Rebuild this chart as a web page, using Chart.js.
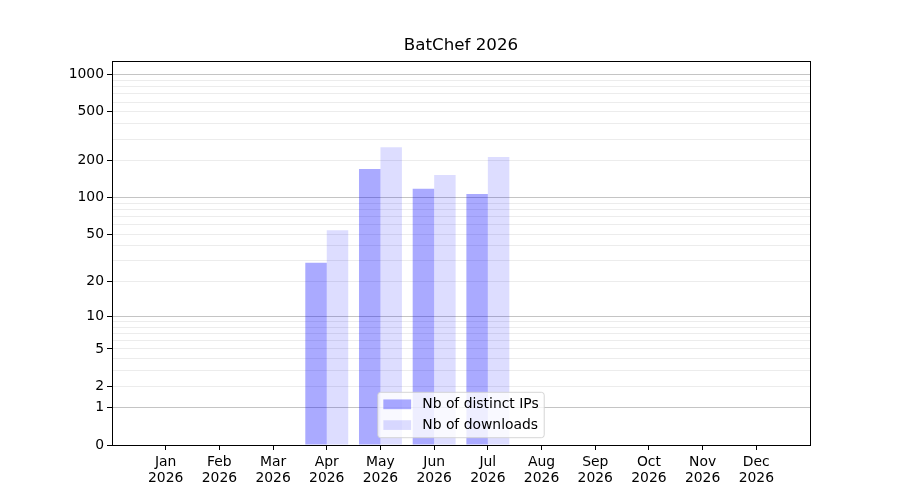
<!DOCTYPE html>
<html>
<head>
<meta charset="utf-8">
<title>BatChef 2026</title>
<script src="https://cdn.jsdelivr.net/npm/chart.js@4.4.1/dist/chart.umd.min.js"></script>
<style>
  html, body { margin: 0; padding: 0; background: #fff; }
  #wrap { width: 900px; height: 500px; }
</style>
</head>
<body>
<div id="wrap"><canvas id="chart" width="900" height="500"></canvas></div>
<script>
const months = ['Jan', 'Feb', 'Mar', 'Apr', 'May', 'Jun', 'Jul', 'Aug', 'Sep', 'Oct', 'Nov', 'Dec'];
const year = '2026';
const distinctIPs = [0, 0, 0, 29, 171, 118, 107, 0, 0, 0, 0, 0];
const downloads = [0, 0, 0, 54, 258, 153, 214, 0, 0, 0, 0, 0];
const yLabelTicks = [0, 1, 2, 5, 10, 20, 50, 100, 200, 500, 1000];
const yMinorTicks = [3, 4, 6, 7, 8, 9, 30, 40, 60, 70, 80, 90, 300, 400, 600, 700, 800, 900];
const yMajorGrid = [1, 10, 100, 1000];

const FONT = '"DejaVu Sans", sans-serif';
const FS = 13.9;

// axe y en log10(1 + v), comme le graphe d'origine
const f = v => Math.log10(1 + v);
const fInv = t => Math.pow(10, t) - 1;

class Log1pScale extends Chart.Scale {
    determineDataLimits() {
        const { min, max } = this.getMinMax(true);
        this.min = Number.isFinite(this.options.min) ? this.options.min : Math.min(0, min);
        this.max = Number.isFinite(this.options.max) ? this.options.max : max;
    }
    buildTicks() {
        return yLabelTicks.concat(yMinorTicks)
            .filter(v => v >= this.min && v <= this.max)
            .sort((a, b) => a - b)
            .map(v => ({ value: v }));
    }
    configure() {
        super.configure();
        this._startValue = f(this.min);
        this._valueRange = f(this.max) - f(this.min);
    }
    getPixelForValue(value) {
        if (value === undefined || value === null) value = this.min;
        return this.getPixelForDecimal((f(value) - this._startValue) / this._valueRange);
    }
    getValueForPixel(pixel) {
        return fInv(this._startValue + this.getDecimalForPixel(pixel) * this._valueRange);
    }
    getLabelForValue(value) {
        return String(value);
    }
}
Log1pScale.id = 'log1p';
Log1pScale.defaults = {};
Chart.register(Log1pScale);

// cadre noir autour de la zone du graphe
const framePlugin = {
    id: 'frame',
    afterDatasetsDraw(chart) {
        const { ctx, chartArea: a } = chart;
        ctx.save();
        ctx.strokeStyle = '#000';
        ctx.lineWidth = 1;
        ctx.strokeRect(Math.round(a.left) + 0.5, Math.round(a.top) + 0.5,
            Math.round(a.right - a.left), Math.round(a.bottom - a.top));
        ctx.restore();
    }
};

// légende dessinée dans la zone, en bas au centre
const insideLegend = {
    id: 'insideLegend',
    afterDraw(chart) {
        const { ctx, chartArea: a } = chart;
        ctx.save();
        ctx.font = FS + 'px ' + FONT;
        const items = chart.data.datasets.map(d => ({ text: d.label, color: d.backgroundColor }));
        const textW = Math.max(...items.map(it => ctx.measureText(it.text).width));
        const pad = 0.4 * FS, handleW = 2 * FS, handleH = 0.7 * FS, gap = 0.8 * FS;
        const rowStep = 20.8;
        const w = pad * 2 + handleW + gap + textW;
        const h = 45.4;
        const x = (a.left + a.right) / 2 - w / 2;
        const y = a.bottom - 7.3 - h;

        ctx.beginPath();
        ctx.roundRect(x, y, w, h, 2.8);
        ctx.fillStyle = 'rgba(255,255,255,0.8)';
        ctx.fill();
        ctx.strokeStyle = 'rgba(204,204,204,0.8)';
        ctx.lineWidth = 1;
        ctx.stroke();

        items.forEach((it, i) => {
            const cy = y + 12 + i * rowStep;
            ctx.fillStyle = it.color;
            ctx.fillRect(x + pad, cy - handleH / 2, handleW, handleH);
            ctx.fillStyle = '#000';
            ctx.textBaseline = 'middle';
            ctx.textAlign = 'left';
            ctx.fillText(it.text, x + pad + handleW + gap, cy + 0.5);
        });
        ctx.restore();
    }
};

const toPoints = arr => arr.map((v, i) => ({ x: i, y: v }));

new Chart(document.getElementById('chart').getContext('2d'), {
    type: 'bar',
    data: {
        datasets: [{
            label: 'Nb of distinct IPs',
            data: toPoints(distinctIPs),
            backgroundColor: 'rgba(0,0,255,0.333)',
            borderWidth: 0,
            categoryPercentage: 0.8,
            barPercentage: 1.0
        }, {
            label: 'Nb of downloads',
            data: toPoints(downloads),
            backgroundColor: 'rgba(0,0,255,0.133)',
            borderWidth: 0,
            categoryPercentage: 0.8,
            barPercentage: 1.0
        }]
    },
    options: {
        responsive: false,
        animation: false,
        layout: { padding: { left: 0, right: 90, top: 0, bottom: 0 } },
        plugins: {
            legend: { display: false },
            tooltip: { enabled: false },
            title: {
                display: true,
                text: 'BatChef 2026',
                fullSize: false,
                color: '#000',
                font: { family: FONT, size: 16.7, weight: 'normal' },
                padding: { top: 36, bottom: 5 }
            }
        },
        scales: {
            x: {
                type: 'linear',
                min: -1,
                max: 12,
                offset: false,
                afterBuildTicks: s => { s.ticks = s.ticks.filter(t => t.value >= 0 && t.value <= 11); },
                afterFit: s => { s.height = 55; },
                border: { display: false },
                grid: { offset: false, drawOnChartArea: false, tickLength: 5, tickColor: '#000', tickWidth: 1 },
                ticks: {
                    stepSize: 1,
                    autoSkip: false,
                    maxRotation: 0,
                    padding: 4,
                    color: '#000',
                    font: { family: FONT, size: FS, lineHeight: 1.15 },
                    callback: v => [months[v], year]
                }
            },
            y: {
                type: 'log1p',
                min: 0,
                max: 1290,
                afterFit: s => { s.width = 112; },
                border: { display: false },
                grid: {
                    lineWidth: 1,
                    color: c => (c.tick && yMajorGrid.includes(c.tick.value)) ? '#c4c4c4' : '#ececec',
                    tickLength: 5,
                    tickWidth: 1,
                    tickColor: c => (c.tick && yLabelTicks.includes(c.tick.value)) ? '#000' : 'rgba(0,0,0,0)'
                },
                ticks: {
                    autoSkip: false,
                    padding: 3,
                    color: '#000',
                    font: { family: FONT, size: FS },
                    callback: v => yLabelTicks.includes(v) ? String(v) : ''
                }
            }
        }
    },
    plugins: [framePlugin, insideLegend]
});
</script>
</body>
</html>
